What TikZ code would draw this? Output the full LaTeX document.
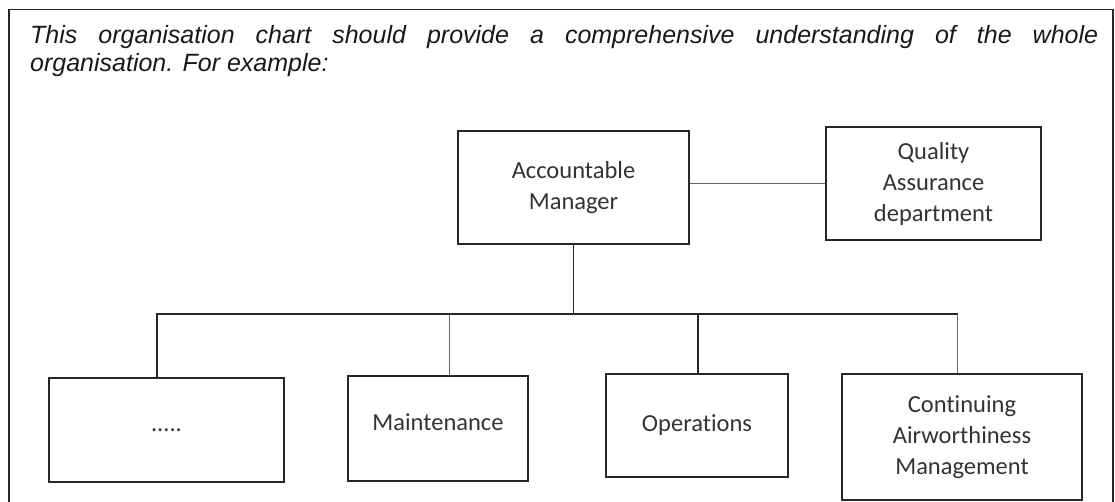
\documentclass[tikz,border=0pt]{standalone}
\usepackage{fontspec}
\setmainfont{Liberation Sans}
\newfontfamily\boxfont[RawFeature=-liga]{Carlito}
\begin{document}
\begin{tikzpicture}[x=1pt,y=-1pt,
    unit/.style={draw=black!85,line width=1.5pt,fill=white,inner sep=0pt,align=center,
      font=\boxfont\fontsize{24.5}{31}\selectfont,text=black!80},
    intro/.style={anchor=base west,inner sep=0pt,font=\itshape\fontsize{25}{28.5}\selectfont,text=black!90},
    link/.style={draw=black!85,line width=1.3pt},
    thin link/.style={draw=black!60,line width=1pt}]
\useasboundingbox (0,0) rectangle (1115,502);
% outer frame, open at the bottom
\draw[line width=1.5pt,black!85] (9,503) -- (9,9.5) -- (1113,9.5) -- (1113,503);
\node[intro] (l1) at (30,43.3) {\makebox[1068pt][s]{This organisation chart should provide a comprehensive understanding of the whole}};
\node[intro] (l2) at (30,71.8) {organisation. For example:};
% boxes
\node[unit,minimum width=231pt,minimum height=113pt] (acc) at (573.5,187.5) {Accountable\\Manager};
\node[unit,minimum width=215pt,minimum height=113pt] (qa) at (933.5,183.5) {Quality\\Assurance\\department};
\node[unit,minimum width=235pt,minimum height=104pt] (misc) at (166.5,430) {.....};
\node[unit,minimum width=180pt,minimum height=105pt,text depth=12pt] (maint) at (438,428.5) {Maintenance};
\node[unit,minimum width=182pt,minimum height=103pt] (ops) at (697,425.5) {Operations};
\node[unit,minimum width=240pt,minimum height=126pt] (caw) at (962,437) {Continuing\\Airworthiness\\Management};
% bus
\coordinate (bus) at (573.5,314);
\coordinate (busL) at (157,314);
\coordinate (busR) at (958,314);
\coordinate (dM) at (449,314);
\coordinate (dO) at (698,314);
\coordinate (dC) at (957,314);
\draw[thin link] (qa.west) -- (qa.west -| acc.east);
\draw[link] (acc.south) -- (bus);
\draw[link] (busL |- misc.north) -- (busL) -- (busR);
\draw[thin link] (dM) -- (dM |- maint.north);
\draw[link] (dO) -- (dO |- ops.north);
\draw[thin link] (dC) -- (dC |- caw.north);
\end{tikzpicture}
\end{document}
